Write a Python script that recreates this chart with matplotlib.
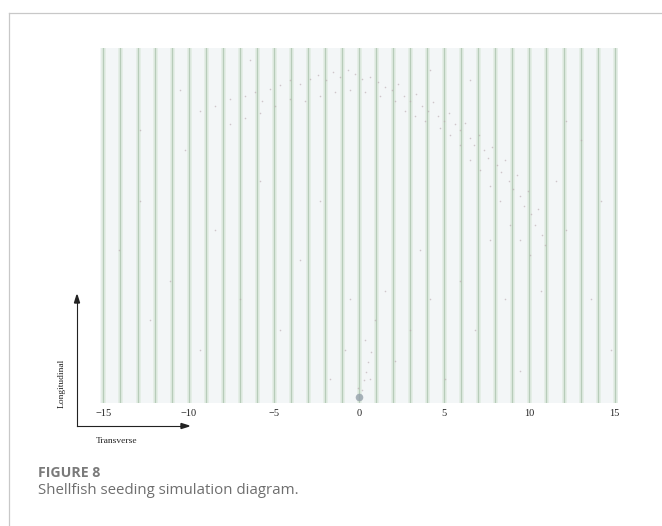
import numpy as np
import matplotlib.pyplot as plt
from matplotlib.lines import Line2D

# --- data ---
tick_values = [-15, -10, -5, 0, 5, 10, 15]
row_positions = list(range(-15, 16))   # seeding rows, one per unit

# simulated shellfish positions (transverse, longitudinal)
shell_x = [-9.35, -8.47, -7.59, -6.71, -6.12, -5.71, -5.24, -4.65, -4.06, -3.47,
           -2.88, -2.41, -1.94, -1.53, -1.12, -0.65, -0.24, 0.18, 0.65, 1.12,
           1.53, 1.94, 2.29, 2.65, 3.0, 3.35, 3.71, 4.06, 4.35, 4.65,
           5.0, 5.29, 5.65, 5.94, 6.24, 6.53, 6.76, 7.06, 7.35, 7.59,
           7.82, 8.12, 8.35, 8.59, 8.82, 9.06, 9.29, 9.47, 9.71, 9.94,
           10.12, 10.35, 10.53, 10.71, 10.94, 10.06, 9.47, 8.88, 8.29, 7.71,
           7.12, 6.53, 5.94, 5.35, 4.76, 3.88, 3.29, 2.71, 2.12, 1.24,
           0.35, -0.53, -1.41, -2.29, -3.18, -4.06, -4.94, -5.82, -6.71, -7.59,
           -14.06, -12.88, -12.29, -11.12, -10.24, -9.35, -8.47, -7.0, -5.82, -4.65,
           -3.47, -2.29, -1.71, -0.82, -0.53, 0.35, 0.65, 0.94, 1.53, 2.12,
           3.0, 3.59, 4.18, 5.06, 5.94, 6.82, 7.71, 8.59, 9.47, 10.65,
           11.53, 12.12, 13.0, 13.59, 14.18, 14.76, 12.12, 6.53, 4.18, -6.41,
           -10.53, -12.88, 0.18, 0.29, 0.41, 0.53, 0.71, -0.06]
shell_y = [17.2, 17.5, 17.9, 18.1, 18.3, 17.8, 18.5, 18.7, 19.0, 18.8,
           19.1, 19.3, 19.0, 19.5, 19.2, 19.6, 19.4, 19.1, 19.2, 18.9,
           18.6, 18.4, 18.8, 18.1, 17.8, 18.2, 17.5, 17.2, 17.7, 16.9,
           16.6, 17.1, 16.4, 16.1, 16.5, 15.6, 15.2, 15.8, 14.9, 14.4,
           15.1, 14.0, 13.6, 14.3, 13.1, 12.6, 13.4, 12.2, 11.6, 12.5,
           11.1, 10.5, 11.4, 9.9, 9.3, 8.7, 9.6, 10.5, 11.9, 12.8,
           13.7, 14.3, 15.2, 15.8, 16.2, 16.6, 16.9, 17.2, 17.8, 18.1,
           18.3, 18.4, 18.3, 18.1, 17.8, 17.9, 17.5, 17.1, 16.8, 16.4,
           9.0, 11.9, 4.9, 7.2, 14.9, 3.1, 10.2, 6.1, 13.1, 4.3,
           8.4, 11.9, 1.4, 3.1, 6.1, 3.7, 1.4, 4.9, 6.6, 2.5,
           4.3, 9.0, 6.1, 1.4, 7.2, 4.3, 9.6, 6.1, 1.9, 6.6,
           13.1, 10.2, 15.5, 6.1, 11.9, 3.1, 16.6, 19.0, 19.6, 20.2,
           18.4, 16.1, 0.76, 1.35, 1.8, 2.4, 3.0, 0.9]

# release point of the seeding boat
release_x = [0.0]
release_y = [0.35]

fig = plt.figure(figsize=(6.62, 5.26), dpi=100)
ax = fig.add_axes([0.1511, 0.2338, 0.7825, 0.6749])
ax.set_facecolor("#f3f6f7")

for xr in row_positions:
    ax.axvline(xr, color="#e5eee6", lw=3.5, zorder=1)
    ax.axvline(xr, color="#b7ccb9", lw=1.0, zorder=2)

ax.scatter(shell_x, shell_y, s=1.3, color="#b8a6ad", alpha=0.6, lw=0, zorder=3)
ax.scatter(release_x, release_y, s=30, color="#96a1ab", alpha=0.8, lw=0, zorder=4)

ax.set_xlim(-15.2, 15.2)
ax.set_ylim(0, 20.9)
ax.set_xticks(tick_values)
ax.set_xticklabels([f"\u2212{abs(v)}" if v < 0 else str(v) for v in tick_values],
                   family="Liberation Serif", fontsize=7.5, color="#222222")
ax.tick_params(axis="x", length=0, pad=4)
ax.set_yticks([])
for s in ax.spines.values():
    s.set_visible(False)

# direction arrows
W, H = 662, 526
def fx(px):
    return px / W
def fy(py):
    return 1 - py / H

fig.add_artist(Line2D([fx(77), fx(186)], [fy(426), fy(426)], color="#222222", lw=0.8))
fig.add_artist(Line2D([fx(77), fx(77)], [fy(426), fy(300)], color="#222222", lw=0.8))
fig.patches.append(plt.Polygon([[fx(189), fy(426)], [fx(181), fy(423.5)], [fx(181), fy(428.5)]],
                               closed=True, color="#222222", transform=fig.transFigure))
fig.patches.append(plt.Polygon([[fx(77), fy(295)], [fx(74.5), fy(303)], [fx(79.5), fy(303)]],
                               closed=True, color="#222222", transform=fig.transFigure))
fig.text(fx(62), fy(383), "Longitudinal", rotation=90, ha="center", va="center",
         family="Liberation Serif", fontsize=6.8, color="#222222")
fig.text(fx(117), fy(441), "Transverse", ha="center", va="center",
         family="Liberation Serif", fontsize=6.8, color="#222222")

# page frame
fig.add_artist(Line2D([fx(8.5), 1], [fy(12.5), fy(12.5)], color="#c8c8c8", lw=0.9))
fig.add_artist(Line2D([fx(8.5), fx(8.5)], [fy(12.5), 0], color="#c8c8c8", lw=0.9))

fig.text(fx(38), fy(473), "FIGURE 8", ha="left", va="center",
         family="Open Sans", fontweight="bold", fontsize=10.2, color="#7a7a7a")
fig.text(fx(38), fy(490), "Shellfish seeding simulation diagram.", ha="left", va="center",
         family="Open Sans", fontsize=10.8, color="#6e6e6e")

fig.savefig("out.png", dpi=100)
